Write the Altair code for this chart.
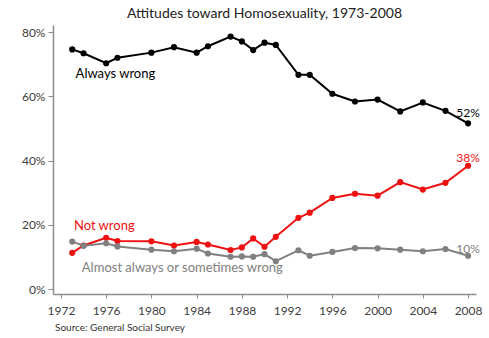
import altair as alt
import pandas as pd

years = [1973, 1974, 1976, 1977, 1980, 1982, 1984, 1985, 1987, 1988, 1989,
         1990, 1991, 1993, 1994, 1996, 1998, 2000, 2002, 2004, 2006, 2008]
always_wrong = [74.6, 73.4, 70.3, 72.0, 73.6, 75.3, 73.6, 75.6, 78.6, 77.1, 74.4,
                76.7, 76.0, 66.7, 66.7, 60.8, 58.4, 59.0, 55.3, 58.1, 55.5, 51.6]
not_wrong = [11.3, 13.6, 16.0, 15.0, 14.9, 13.6, 14.7, 13.9, 12.2, 13.0, 15.8,
             13.2, 16.3, 22.2, 23.8, 28.4, 29.7, 29.1, 33.3, 31.0, 33.1, 38.4]
sometimes_wrong = [14.8, 13.5, 14.3, 13.3, 12.3, 11.8, 12.6, 11.1, 10.1, 10.2, 10.1,
                   10.9, 8.7, 12.1, 10.4, 11.6, 12.8, 12.7, 12.3, 11.8, 12.5, 10.4]

series_names = ["Always wrong", "Not wrong", "Almost always or sometimes wrong"]
series_colors = ["#000000", "#ee1111", "#808080"]
label_colors = ["#333333", "#ee1111", "#a6a6a6"]
end_labels = ["52%", "38%", "10%"]

# annotation anchors in data units (year, percent)
label_years = [1973.3, 1973.15, 1973.85]
label_values = [67.0, 19.7, 6.5]
end_label_values = [54.8, 40.8, 12.6]

rows = []
for name, vals in zip(series_names, [always_wrong, not_wrong, sometimes_wrong]):
    for y, v in zip(years, vals):
        rows.append({"year": y, "value": v, "series": name})
df = pd.DataFrame(rows)

labels_df = pd.DataFrame({
    "year": label_years, "value": label_values, "text": series_names,
    "series": series_names,
})
end_df = pd.DataFrame({
    "year": [2008] * 3, "value": end_label_values, "text": end_labels,
    "series": series_names,
})

FONT = "Lato"
xscale = alt.Scale(domain=[1971.3, 2008.7], nice=False, zero=False)
yscale = alt.Scale(domain=[-1.5, 82.2], nice=False, zero=False)
color = alt.Color("series:N", scale=alt.Scale(domain=series_names, range=series_colors), legend=None)
tcolor = alt.Color("series:N", scale=alt.Scale(domain=series_names, range=label_colors), legend=None)

x_enc = alt.X("year:Q", scale=xscale, title=None,
              axis=alt.Axis(values=list(range(1972, 2009, 4)), format="d", grid=False,
                            domainColor="#8c8c8c", domainWidth=1.5, tickColor="#8c8c8c",
                            tickSize=4, labelFontSize=12, labelColor="#404040",
                            labelFont=FONT, labelPadding=7))
y_enc = alt.Y("value:Q", scale=yscale, title=None,
              axis=alt.Axis(values=[0, 20, 40, 60, 80], labelExpr="datum.value + '%'",
                            grid=False, domainColor="#8c8c8c", domainWidth=1.5,
                            tickColor="#8c8c8c", tickSize=5, labelFontSize=12,
                            labelColor="#404040", labelFont=FONT, labelPadding=3))

lines = alt.Chart(df).mark_line(strokeWidth=2).encode(x=x_enc, y=y_enc, color=color, detail="series:N")
points = alt.Chart(df).mark_circle(size=38, opacity=1).encode(x="year:Q", y="value:Q", color=color)

labels = alt.Chart(labels_df).mark_text(align="left", baseline="middle", fontSize=13, font=FONT).encode(
    x="year:Q", y="value:Q", text="text:N", color=tcolor)
ends = alt.Chart(end_df).mark_text(align="center", baseline="middle", fontSize=12, font=FONT).encode(
    x="year:Q", y="value:Q", text="text:N", color=tcolor)

source = alt.Chart(pd.DataFrame({"t": ["Source: General Social Survey"]})).mark_text(
    align="left", baseline="middle", fontSize=10, font=FONT, color="#333333").encode(
    x=alt.value(2), y=alt.value(303), text="t:N")

chart = alt.layer(lines, points, labels, ends, source).properties(
    width=423, height=269,
    title=alt.TitleParams("Attitudes toward Homosexuality, 1973-2008", fontSize=14,
                          font=FONT, fontWeight="normal", color="#222222",
                          anchor="middle", offset=4),
    autosize=alt.AutoSizeParams(type="none"),
    padding={"left": 53, "top": 25, "right": 13, "bottom": 44},
).configure_view(stroke=None)

chart.save("out.html", embed_options={"renderer": "svg", "actions": False})
